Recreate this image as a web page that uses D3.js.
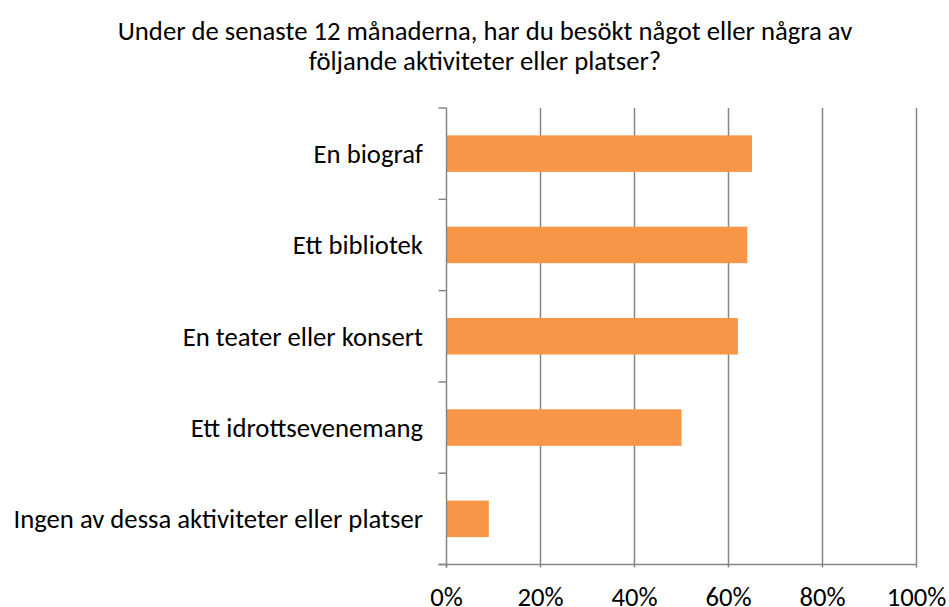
<!DOCTYPE html>
<html>
<head>
<meta charset="utf-8">
<script src="https://cdn.jsdelivr.net/npm/d3@7"></script>
<style>
  body { margin: 0; background: #fff; }
  text { font-family: Carlito, Calibri, Lato, "Liberation Sans", sans-serif; fill: #000; }
</style>
</head>
<body>
<script>
var categories = ["En biograf", "Ett bibliotek", "En teater eller konsert", "Ett idrottsevenemang", "Ingen av dessa aktiviteter eller platser"]
var values = [65, 64, 62, 50, 9]
var ticks = [0, 20, 40, 60, 80, 100]
var titleLines = ["Under de senaste 12 månaderna, har du besökt något eller några av", "följande aktiviteter eller platser?"]

var width = 949, height = 607
var plotLeft = 446.5, plotRight = 916.5, plotTop = 108, plotBottom = 564.5
var fontSize = "26.7px"

var svg = d3.select("body").append("svg")
  .attr("width", width)
  .attr("height", height)

var x = d3.scaleLinear().domain([0, 100]).range([plotLeft, plotRight])
var y = d3.scaleBand().domain(categories).range([plotTop, plotBottom]).paddingInner(0.6).paddingOuter(0.3)

// gridlines
svg.selectAll("line.grid")
  .data(ticks.slice(1)).enter()
  .append("line")
  .attr("class", "grid")
  .attr("x1", function(d) {return x(d)})
  .attr("x2", function(d) {return x(d)})
  .attr("y1", plotTop)
  .attr("y2", plotBottom)
  .attr("stroke", "#868686")
  .attr("stroke-width", 1.5)

svg.selectAll("rect")
  .data(values).enter()
  .append("rect")
  .attr("x", x(0))
  .attr("y", function(d, i) {return y(categories[i])})
  .attr("width", function(d) {return x(d) - x(0)})
  .attr("height", y.bandwidth())
  .attr("fill", "#F79646")

// left axis, ticks at band boundaries
var bounds = d3.range(categories.length + 1).map(function(i) {return plotTop + i * (plotBottom - plotTop) / categories.length})
svg.append("line")
  .attr("x1", plotLeft).attr("x2", plotLeft)
  .attr("y1", plotTop).attr("y2", plotBottom + 3)
  .attr("stroke", "#868686").attr("stroke-width", 1.5)
svg.selectAll("line.ytick")
  .data(bounds).enter()
  .append("line")
  .attr("class", "ytick")
  .attr("x1", plotLeft - 8).attr("x2", plotLeft)
  .attr("y1", function(d) {return d}).attr("y2", function(d) {return d})
  .attr("stroke", "#868686").attr("stroke-width", 1.5)

// bottom axis
svg.append("line")
  .attr("x1", plotLeft - 8).attr("x2", plotRight)
  .attr("y1", plotBottom).attr("y2", plotBottom)
  .attr("stroke", "#868686").attr("stroke-width", 1.5)
svg.selectAll("line.xtick")
  .data(ticks).enter()
  .append("line")
  .attr("class", "xtick")
  .attr("x1", function(d) {return x(d)}).attr("x2", function(d) {return x(d)})
  .attr("y1", plotBottom).attr("y2", plotBottom + 3)
  .attr("stroke", "#868686").attr("stroke-width", 1.5)

svg.selectAll("text.xlab")
  .data(ticks).enter()
  .append("text")
  .attr("class", "xlab")
  .attr("x", function(d) {return x(d)})
  .attr("y", 606)
  .attr("text-anchor", "middle")
  .attr("font-size", fontSize)
  .text(function(d) {return d + "%"})

svg.selectAll("text.ylab")
  .data(categories).enter()
  .append("text")
  .attr("class", "ylab")
  .attr("x", 423)
  .attr("y", function(d) {return y(d) + y.bandwidth() / 2})
  .attr("dy", "0.35em")
  .attr("text-anchor", "end")
  .attr("font-size", fontSize)
  .text(function(d) {return d})

svg.selectAll("text.title")
  .data(titleLines).enter()
  .append("text")
  .attr("class", "title")
  .attr("x", 485)
  .attr("y", function(d, i) {return 40 + i * 30})
  .attr("text-anchor", "middle")
  .attr("font-size", fontSize)
  .text(function(d) {return d})
</script>
</body>
</html>
